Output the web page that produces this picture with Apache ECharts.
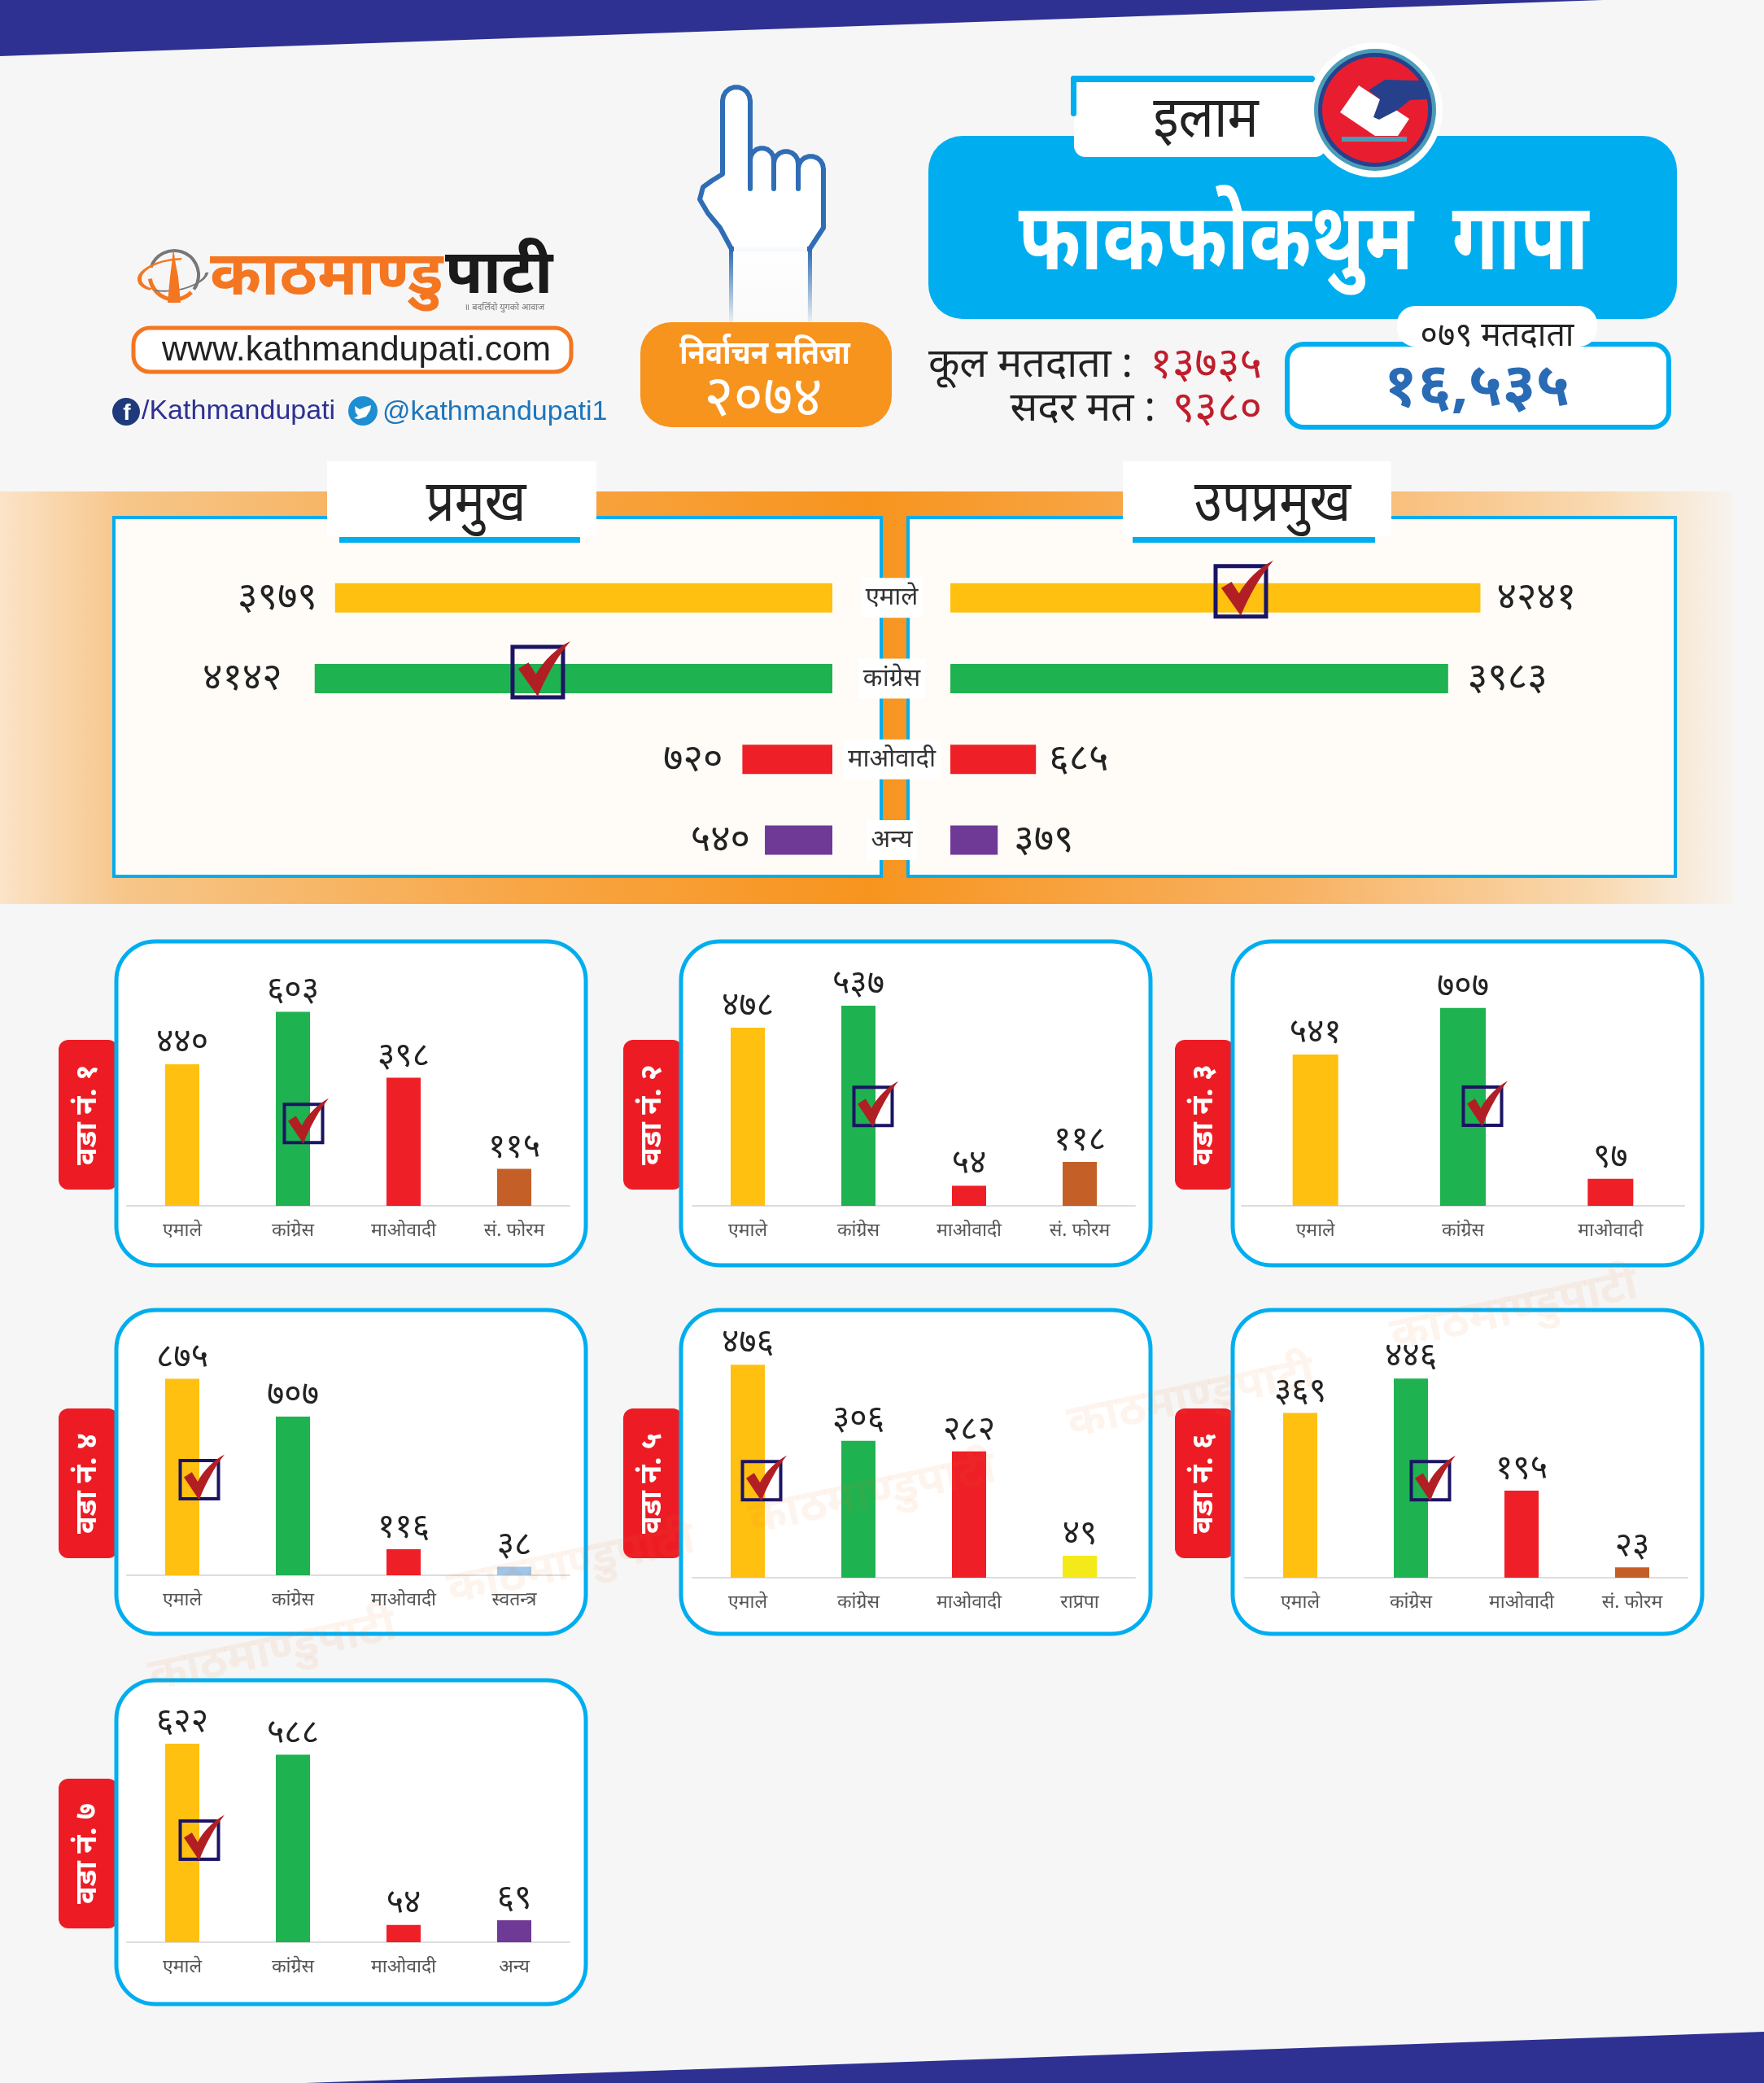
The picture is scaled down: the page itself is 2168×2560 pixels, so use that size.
<!DOCTYPE html>
<html><head><meta charset="utf-8">
<style>html,body{margin:0;padding:0;background:#f6f6f6}#c{width:2168px;height:2560px}</style>
<script src="https://cdn.jsdelivr.net/npm/echarts@6/dist/echarts.min.js"></script>
</head><body><div id="c"></div>
<script>
// ---------- data ----------
const mainCategories = ['एमाले','कांग्रेस','माओवादी','अन्य'];
const mayorValues = [3979,4142,720,540];
const deputyValues = [4241,3983,685,379];
const mainWinnerMayor = 1;
const mainWinnerDeputy = 0;
const wardNames = ['वडा नं. १','वडा नं. २','वडा नं. ३','वडा नं. ४','वडा नं. ५','वडा नं. ६','वडा नं. ७'];
const ward1Cats = ['एमाले','कांग्रेस','माओवादी','सं. फोरम'];
const ward2Cats = ['एमाले','कांग्रेस','माओवादी','सं. फोरम'];
const ward3Cats = ['एमाले','कांग्रेस','माओवादी'];
const ward4Cats = ['एमाले','कांग्रेस','माओवादी','स्वतन्त्र'];
const ward5Cats = ['एमाले','कांग्रेस','माओवादी','राप्रपा'];
const ward6Cats = ['एमाले','कांग्रेस','माओवादी','सं. फोरम'];
const ward7Cats = ['एमाले','कांग्रेस','माओवादी','अन्य'];
const ward1Values = [440,603,398,115];
const ward2Values = [478,537,54,118];
const ward3Values = [541,707,97];
const ward4Values = [875,707,116,38];
const ward5Values = [476,306,282,49];
const ward6Values = [369,446,195,23];
const ward7Values = [622,588,54,69];
const wardWinners = [1,1,1,0,0,1,0];
const partyColors = {'एमाले':'#ffc00f','कांग्रेस':'#1fb250','माओवादी':'#ee1f26','अन्य':'#6f3996','सं. फोरम':'#c45f28','स्वतन्त्र':'#9fc5e8','राप्रपा':'#f4ea1a'};

// ---------- layout ----------
const FONT = '"Noto Sans","Noto Sans Devanagari","Lohit Devanagari",sans-serif';
const LATIN = '"Liberation Sans",Arial,sans-serif';
const deva = v => String(v).replace(/\d/g, d => '०१२३४५६७८९'[d]);
const wardLayout = [
  {cats:ward1Cats,vals:ward1Values,px:143,py:1157,gx:156,base:1482,max:708,tick:256,dx:13},
  {cats:ward2Cats,vals:ward2Values,px:837,py:1157,gx:851,base:1482,max:611,tick:267,dx:18},
  {cats:ward3Cats,vals:ward3Values,px:1515,py:1157,gx:1526,base:1482,max:814,tick:356,dx:24},
  {cats:ward4Cats,vals:ward4Values,px:143,py:1610,gx:156,base:1936,max:1015,tick:426,dx:21},
  {cats:ward5Cats,vals:ward5Values,px:837,py:1610,gx:851,base:1939,max:509,tick:217,dx:17},
  {cats:ward6Cats,vals:ward6Values,px:1515,py:1610,gx:1530,base:1939,max:510,tick:217,dx:24},
  {cats:ward7Cats,vals:ward7Values,px:143,py:2065,gx:156,base:2387,max:714,tick:320,dx:21}
];
const PW=577, PH=398;
const TICK='path://M0 62 L22 48 L38 74 C54 44 84 14 112 0 C86 32 60 78 42 124 Z';

const grid=[], xAxis=[], yAxis=[], series=[], graphic=[];
// main panels
const mainMax=5208;
grid.push({left:223,top:685,width:800,height:397},{left:1168,top:685,width:800,height:397});
xAxis.push({gridIndex:0,type:'value',inverse:true,min:0,max:mainMax,show:false},
           {gridIndex:1,type:'value',min:0,max:mainMax,show:false});
yAxis.push({gridIndex:0,type:'category',inverse:true,data:mainCategories,show:false},
           {gridIndex:1,type:'category',inverse:true,data:mainCategories,
            axisLine:{show:false},axisTick:{show:false},
            axisLabel:{margin:72,align:'center',fontFamily:FONT,fontSize:31,color:'#333',backgroundColor:'#fff',padding:[9,6]}});
const mainLabelDist=[[22,40,24,18],[20,24,16,20]];
[mayorValues,deputyValues].forEach((vals,k)=>{
  series.push({type:'bar',xAxisIndex:k,yAxisIndex:k,barWidth:36,silent:true,
    data:vals.map((v,i)=>({value:v,itemStyle:{color:partyColors[mainCategories[i]]},
      label:{show:true,position:k?'right':'left',distance:mainLabelDist[k][i],formatter:p=>deva(p.value),
        fontFamily:FONT,fontSize:47,color:'#222'}}))});
});
[[0,mainWinnerMayor,2357],[1,mainWinnerDeputy,2324]].forEach(([k,cat,val])=>{
  series.push({type:'scatter',xAxisIndex:k,yAxisIndex:k,silent:true,z:6,symbol:'rect',symbolSize:62,symbolOffset:[0,-8],
    itemStyle:{opacity:1,color:'rgba(0,0,0,0)',borderColor:'#1b1464',borderWidth:5},data:[[val,cat]]});
  series.push({type:'scatter',xAxisIndex:k,yAxisIndex:k,silent:true,z:7,symbol:TICK,symbolSize:[64,68],symbolOffset:[8,-12],
    itemStyle:{opacity:1,color:'#b11f24'},data:[[val,cat]]});
});
// wards
wardLayout.forEach((w,i)=>{
  const g=grid.length;
  grid.push({left:w.gx,top:w.base-280,width:544,height:280});
  xAxis.push({gridIndex:g,type:'category',data:w.cats,axisTick:{show:false},
    axisLine:{lineStyle:{color:'#dddddd',width:2}},
    axisLabel:{margin:19,fontFamily:FONT,fontSize:23,color:'#555',interval:0}});
  yAxis.push({gridIndex:g,type:'value',min:0,max:w.max,show:false,splitLine:{show:false}});
  series.push({type:'bar',xAxisIndex:g,yAxisIndex:g,silent:true,barWidth:w.cats.length===3?56:42,
    label:{show:true,position:'top',distance:6,fontFamily:FONT,fontSize:41,color:'#222',formatter:p=>deva(p.value)},
    data:w.vals.map((v,j)=>({value:v,itemStyle:{color:partyColors[w.cats[j]]}}))});
  series.push({type:'scatter',xAxisIndex:g,yAxisIndex:g,silent:true,z:6,symbol:'rect',symbolSize:47,symbolOffset:[w.dx,0],
    itemStyle:{opacity:1,color:'rgba(0,0,0,0)',borderColor:'#1b1464',borderWidth:4},data:[[wardWinners[i],w.tick]]});
  series.push({type:'scatter',xAxisIndex:g,yAxisIndex:g,silent:true,z:7,symbol:TICK,symbolSize:[50,56],symbolOffset:[w.dx+6,-3],
    itemStyle:{opacity:1,color:'#b11f24'},data:[[wardWinners[i],w.tick]]});
});

// ---------- decoration ----------
const rect=(x,y,w,h,fill,r,extra)=>Object.assign({type:'rect',shape:{x,y,width:w,height:h,r:r||0},style:{fill}},extra||{});
const text=(x,y,t,size,fill,opt)=>Object.assign({type:'text',x,y,z:5,style:Object.assign({text:t,fontSize:size,fill,fontFamily:FONT,align:'center',verticalAlign:'middle'},opt&&opt.style||{})},opt&&opt.el||{});
const poly=(pts,fill,extra)=>Object.assign({type:'polygon',shape:{points:pts},style:{fill}},extra||{});
const arch=(x1,x2,yTop,yLeg)=>{const p=[[x1,yLeg]];const r=(x2-x1)/2;for(let a=180;a>=0;a-=20){p.push([x1+r+r*Math.cos(a*Math.PI/180),yTop+r-r*Math.sin(a*Math.PI/180)]);}p.push([x2,yLeg]);return p;};
const handPts=[[899,306],[885,280],[870,262],[860,245],[864,230],[875,222],[888,214]]
  .concat(arch(888,922,107,214).slice(1),[[922,232]],arch(922,951,182,232),arch(951,981,186,232),arch(981,1012,192,232).slice(0,-1),[[1012,280],[995,306]]);
const CY='#00aeef';
const fade=c=>({type:'linear',x:0,y:0,x2:0,y2:1,colorStops:[{offset:0,color:c},{offset:1,color:'rgba(47,109,181,0.05)'}]});
const arc=(x,y,r,a,b,color,lw,sy,rot)=>({type:'arc',x,y,scaleY:sy||1,rotation:rot||0,shape:{cx:0,cy:0,r,startAngle:a,endAngle:b},style:{stroke:color,fill:null,lineWidth:lw}});
graphic.push(
  poly([[0,0],[1970,0],[0,69]],'#2e3192'),
  poly([[375,2560],[2168,2497],[2168,2560]],'#2e3192'),
  // band
  rect(0,604,2130,507,{type:'linear',x:0,y:0,x2:1,y2:0,colorStops:[{offset:0,color:'#fbe4c8'},{offset:.07,color:'#f6c68a'},{offset:.3,color:'#f8a645'},{offset:.5,color:'#f7941e'},{offset:.75,color:'#f8b263'},{offset:.92,color:'#f9d9b0'},{offset:1,color:'#f7f3ee'}]}),
  // frames
  rect(140,636,943,441,'#fffcf8',0,{style:{fill:'#fffcf8',stroke:CY,lineWidth:4}}),
  rect(1116,636,943,441,'#fffcf8',0,{style:{fill:'#fffcf8',stroke:CY,lineWidth:4}}),
  rect(402,567,331,92,'#fff'),rect(417,660,296,7,CY),
  rect(1380,567,330,92,'#fff'),rect(1392,660,298,7,CY),
  text(585,620,'प्रमुख',62,'#222',{el:{scaleY:1.15}}),
  text(1564,620,'उपप्रमुख',62,'#222',{el:{scaleY:1.15}}),
  // header blue card
  rect(1141,167,920,225,CY,42),
  rect(1320,94,310,99,'#fff',14),
  rect(1316,93,300,8,CY,4),rect(1316,93,7,50,CY,4),
  text(1482,148,'इलाम',64,'#222',{el:{scaleY:1.1}}),
  text(1602,298,'फाकफोकथुम  गापा',92,'#fff',{style:{fontWeight:'bold'},el:{scaleY:1.25}}),
  // ballot icon
  {type:'circle',shape:{cx:1690,cy:135,r:83},style:{fill:'#fff'}},
  {type:'circle',shape:{cx:1690,cy:135,r:75},style:{fill:'#4a9cb8'}},
  {type:'circle',shape:{cx:1690,cy:135,r:70},style:{fill:'#27408b'}},
  {type:'circle',shape:{cx:1690,cy:135,r:65},style:{fill:'#e81e30'}},
  poly([[1670,105],[1732,146],[1718,167],[1690,167],[1647,138]],'#fff'),
  poly([[1702,98],[1745,99],[1755,110],[1755,122],[1733,123],[1718,135],[1695,147],[1688,144],[1696,122],[1682,111]],'#27408b'),
  rect(1649,168,80,6,'#4a9cb8'),
  // hand
  poly(handPts,'#fff',{style:{fill:'#fff',stroke:'#2f6db5',lineWidth:6,lineJoin:'round'}}),
  rect(902,300,90,96,{type:'linear',x:0,y:0,x2:0,y2:1,colorStops:[{offset:0,color:'#fff'},{offset:1,color:'rgba(255,255,255,.4)'}]}),
  rect(896,306,5,90,fade('#2f6db5')),
  rect(993,306,5,90,fade('#2f6db5')),
  // orange box
  rect(787,396,309,129,'#f7941e',38),
  text(940,436,'निर्वाचन नतिजा',35,'#fff',{style:{fontWeight:'bold'},el:{scaleY:1.15}}),
  text(938,491,'२०७४',70,'#fff'),
  // logo
  arc(214,338,30,-Math.PI*0.9,Math.PI*0.2,'#777',4),
  arc(214,338,30,Math.PI*0.25,Math.PI*0.95,'#f47621',5),
  arc(213,338,42,Math.PI*0.05,Math.PI*0.7,'#777',4,0.45,0.15),
  arc(213,338,42,Math.PI*0.75,Math.PI*1.6,'#f47621',5,0.45,0.15),
  poly([[213,305],[216,325],[219,340],[222,372],[206,372],[209,340],[211,325]],'#f47621'),
  text(258,340,'काठमाण्डु',76,'#f47621',{style:{align:'left',fontWeight:'bold'}}),
  text(547,338,'पाटी',76,'#1a1a1a',{style:{align:'left',fontWeight:'bold'}}),
  text(620,378,'॥ बदलिँदो युगको आवाज',11,'#777'),
  rect(164,403,538,54,'#fff',20,{style:{fill:'#fff',stroke:'#f47621',lineWidth:5}}),
  text(438,431,'www.kathmandupati.com',43,'#222',{style:{fontFamily:LATIN}}),
  {type:'circle',shape:{cx:155,cy:506,r:17},style:{fill:'#1f3a7a'}},
  text(156,508,'f',28,'#fff',{style:{fontFamily:LATIN,fontWeight:'bold'}}),
  text(174,506,'/Kathmandupati',34,'#2e3192',{style:{fontFamily:LATIN,align:'left'}}),
  {type:'circle',shape:{cx:446,cy:505,r:18},style:{fill:'#1c8ed1'}},
  poly([[436,499],[442,503],[449,500],[456,498],[455,504],[450,512],[441,515],[435,514],[440,511],[437,507]],'#fff'),
  text(470,507,'@kathmandupati1',34,'#1c75bc',{style:{fontFamily:LATIN,align:'left'}}),
  // totals
  text(1551,449,'१३७३५',53,'#be1e2d',{style:{align:'right'}}),
  text(1392,449,'कूल मतदाता :',50,'#222',{style:{align:'right'}}),
  text(1551,503,'९३८०',53,'#be1e2d',{style:{align:'right'}}),
  text(1420,503,'सदर मत :',50,'#222',{style:{align:'right'}}),
  rect(1582,423,469,102,'#fff',20,{style:{fill:'#fff',stroke:CY,lineWidth:6}}),
  rect(1717,376,246,50,'#fff',22),
  text(1840,413,'०७९ मतदाता',41,'#222'),
  text(1815,477,'१६,५३५',74,'#2a6bb5',{style:{fontWeight:'bold'}})
);
// ward frames + tags
wardLayout.forEach((w,i)=>{
  graphic.push(rect(w.px-71,w.py+121,73,184,'#ed1c24',12));
  graphic.push(rect(w.px,w.py,PW,PH,'#fff',48,{style:{fill:'#fff',stroke:CY,lineWidth:5}}));
  graphic.push({type:'text',x:w.px-35,y:w.py+213,rotation:Math.PI/2,z:5,style:{text:wardNames[i],fontSize:36,fill:'#fff',fontFamily:FONT,align:'center',verticalAlign:'middle',fontWeight:'bold'}});
});
// watermarks
[[335,2030],[702,1923],[1072,1837],[1464,1719],[1861,1611]].forEach(([x,y])=>{
  graphic.push({type:'text',x,y,rotation:0.21,z:9,silent:true,style:{text:'काठमाण्डुपाटी',fontSize:56,fill:'rgba(244,118,33,0.08)',fontFamily:FONT,align:'center',verticalAlign:'middle',fontWeight:'bold'}});
});

const chart=echarts.init(document.getElementById('c'),null,{renderer:'canvas'});
chart.setOption({animation:false,backgroundColor:'#f6f6f6',tooltip:{show:false},grid,xAxis,yAxis,series,graphic:{elements:graphic}});
</script></body></html>
